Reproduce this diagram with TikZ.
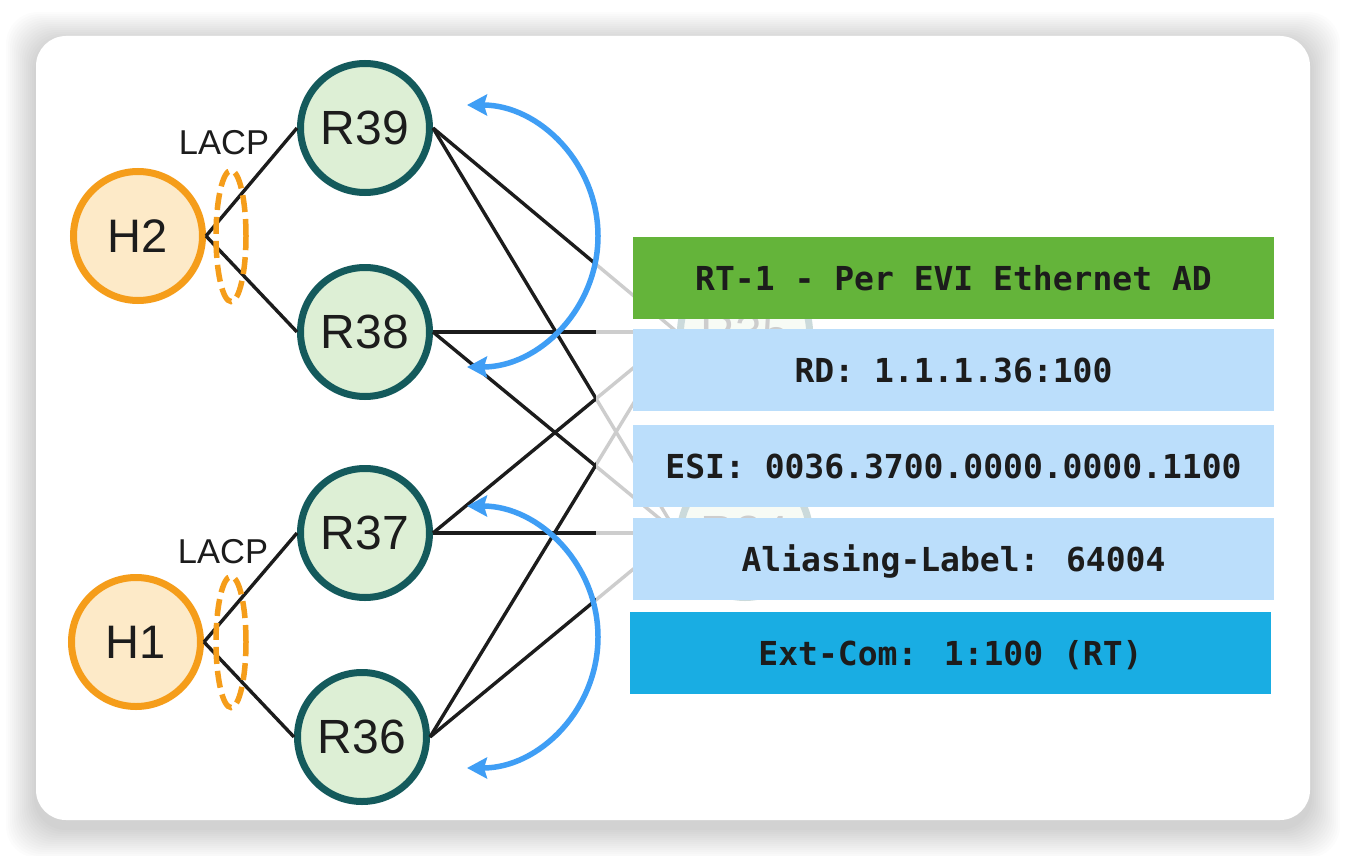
\documentclass[tikz,border=0pt]{standalone}
\usepackage{fontspec}
\setmainfont{Liberation Sans}
\newfontfamily\boxfont{DejaVu Sans Mono}
\usepackage{tikz}
\usetikzlibrary{arrows.meta,shapes.geometric}
\definecolor{rtrline}{HTML}{145A5C}
\definecolor{rtrfill}{HTML}{DDEFD5}
\definecolor{hostline}{HTML}{F59D1A}
\definecolor{hostfill}{HTML}{FDEAC8}
\definecolor{txt}{HTML}{1C1C1C}
\definecolor{arwblue}{HTML}{3F9EF5}
\definecolor{rtgreen}{HTML}{64B43A}
\definecolor{fldblue}{HTML}{BBDEFB}
\definecolor{extblue}{HTML}{19ADE3}

\begin{document}
\begin{tikzpicture}[
  x=1pt, y=-1pt,
  rtr/.style ={circle, draw=rtrline, fill=rtrfill, line width=7pt, minimum size=129pt,
               inner sep=0pt, text=txt, font=\fontsize{48}{48}\selectfont},
  host/.style={rtr, draw=hostline, fill=hostfill, font=\fontsize{47}{47}\selectfont},
  lag/.style ={ellipse, draw=hostline, line width=5.5pt, dash pattern=on 17pt off 7pt,
               minimum width=30pt, minimum height=131pt, inner sep=0pt},
  lbl/.style ={inner sep=0pt, text=txt, font=\fontsize{34.5}{34.5}\selectfont},
  lnk/.style ={draw=txt, line width=3.4pt},
  arw/.style ={{Stealth[length=20pt, width=21pt, inset=3pt]}-{Stealth[length=20pt, width=21pt, inset=3pt]},
               draw=arwblue, line width=5.5pt},
  fld/.style ={minimum width=641pt, minimum height=82pt, inner sep=0pt, text=txt,
               font=\boxfont\fontsize{33}{33}\selectfont\bfseries, text height=24pt, text depth=0pt}
]
\useasboundingbox (0,0) rectangle (1346,856);

% ---------- card ----------
\foreach \i in {1,...,15}
  \fill[black, opacity=0.012, rounded corners=32pt] (36-2*\i,42-2*\i) rectangle (1310+2*\i,828+2*\i);
\fill[white, rounded corners=30pt] (36,36) rectangle (1310,820);

% ---------- routers and hosts ----------
\node[rtr]  (r39) at (365,128) {R39};
\node[rtr]  (r38) at (365,332) {R38};
\node[rtr]  (r37) at (365,533) {R37};
\node[rtr]  (r36) at (362,737) {R36};
\node[rtr]  (r35) at (745,332) {R35};
\node[rtr]  (r34) at (745,533) {R34};
\node[host] (h2)  at (138,236) {H2};
\node[host] (h1)  at (136,642) {H1};

\draw[lnk] (h2.east) -- (r39.west);
\draw[lnk] (h2.east) -- (r38.west);
\draw[lnk] (h1.east) -- (r37.west);
\draw[lnk] (h1.east) -- (r36.west);
\foreach \r in {r39,r38,r37,r36} {
  \draw[lnk] (\r.east) -- (r35.west);
  \draw[lnk] (\r.east) -- (r34.west);
}

% ---------- LACP bundles ----------
\node[lag] (lag2) at (231,236) {};
\node[lag] (lag1) at (231,642) {};
\node[lbl] (lacp2) at (224,143) {LACP};
\node[lbl] (lacp1) at (223,552) {LACP};

% ---------- faded right side ----------
\fill[white, opacity=0.78] (596,200) rectangle (900,700);

% ---------- redundancy arrows ----------
\coordinate (a2s) at (467,105);
\coordinate (a2e) at (467,367);
\coordinate (a1s) at (467,506);
\coordinate (a1e) at (467,768);
\draw[arw] (a2s) .. controls (539.3,105) and (598,163.7) .. (598,236)
                 .. controls (598,308.3) and (539.3,367) .. (a2e);
\draw[arw] (a1s) .. controls (539.3,506) and (598,564.7) .. (598,637)
                 .. controls (598,709.3) and (539.3,768) .. (a1e);

% ---------- route fields ----------
\node[fld, fill=rtgreen] (rt)  at (953.5,278) {RT-1 - Per EVI Ethernet AD};
\node[fld, fill=fldblue] (rd)  at (953.5,370) {RD: 1.1.1.36:100};
\node[fld, fill=fldblue] (esi) at (953.5,466) {ESI: 0036.3700.0000.0000.1100};
\node[fld, fill=fldblue] (lab) at (953.5,559) {Aliasing-Label: 64004};
\node[fld, fill=extblue] (ext) at (950.5,653) {Ext-Com: 1:100 (RT)};
\end{tikzpicture}
\end{document}
